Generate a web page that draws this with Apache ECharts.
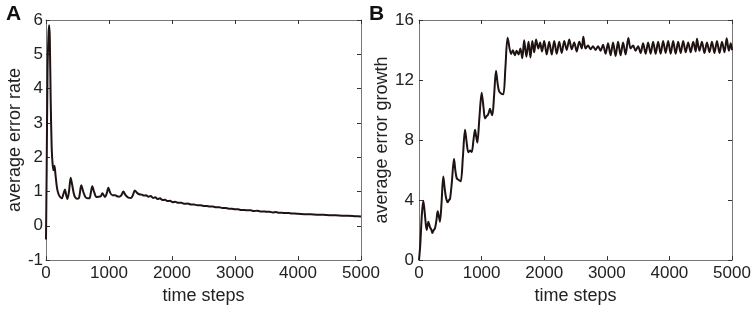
<!DOCTYPE html>
<html>
<head>
<meta charset="utf-8">
<script src="https://cdn.jsdelivr.net/npm/echarts@6/dist/echarts.min.js"></script>
<style>
html,body{margin:0;padding:0;background:#fff;}
#chart{width:754px;height:310px;}
</style>
</head>
<body>
<div id="chart"></div>
<script>
// ---- Data ----
var xTicks = [0, 1000, 2000, 3000, 4000, 5000];
var yTicksA = [-1, 0, 1, 2, 3, 4, 5, 6];
var yTicksB = [0, 4, 8, 12, 16];

var stepsA = [0,10,25,40,50,60,75,90,105,120,135,150,175,200,225,250,275,300,320,340,365,392,415,440,460,495,525,560,590,625,660,690,710,735,765,800,840,870,895,935,965,990,1020,1055,1100,1130,1160,1195,1228,1260,1300,1350,1380,1410,1445,1480,1520,1555,1590,1625,1660,1700,1735,1770,1810,1850,1890,1930,1970,2010,2050,2100,2150,2200,2250,2300,2350,2400,2450,2500,2550,2600,2650,2700,2750,2800,2850,2900,2950,3000,3050,3100,3150,3200,3250,3300,3350,3400,3450,3500,3550,3600,3650,3700,3750,3800,3850,3900,3950,4000,4100,4200,4300,4400,4500,4600,4700,4800,4900,5000];
var valuesA = [-0.4,1.5,4.6,5.6,5.85,5.5,3.6,2.3,1.8,1.62,1.75,1.5,1.1,0.92,0.84,0.8,0.92,1.06,0.9,0.78,1.0,1.4,1.2,0.95,0.84,0.79,0.82,1.18,1.0,0.84,0.8,0.8,0.95,1.15,0.98,0.84,0.85,0.86,0.95,0.84,0.95,1.11,0.96,0.89,0.89,0.86,0.85,0.89,1.0,0.9,0.83,0.81,0.9,1.03,0.96,0.92,0.91,0.88,0.89,0.85,0.87,0.81,0.83,0.78,0.8,0.75,0.76,0.72,0.73,0.69,0.7,0.67,0.67,0.64,0.65,0.62,0.62,0.6,0.6,0.58,0.58,0.56,0.56,0.54,0.54,0.52,0.52,0.5,0.5,0.48,0.48,0.46,0.46,0.45,0.45,0.43,0.44,0.42,0.42,0.41,0.41,0.39,0.4,0.38,0.38,0.37,0.37,0.36,0.36,0.35,0.34,0.335,0.325,0.32,0.31,0.305,0.295,0.29,0.28,0.27];

var stepsB = [0,20,45,69,95,122,149,175,200,213,235,256,280,298,318,335,360,388,410,431,458,478,495,525,559,580,602,630,666,700,735,760,788,815,842,870,895,915,932,965,1001,1030,1054,1080,1097,1120,1134,1155,1172,1200,1230,1255,1278,1310,1347,1380,1416,1470,1500,1530,1560,1590,1620,1650,1680,1715,1750,1780,1810,1840,1870,1905,1935,1965,2000,2040,2080,2120,2160,2200,2240,2280,2320,2360,2400,2440,2480,2520,2560,2600,2625,2660,2700,2740,2780,2820,2860,2900,2940,2980,3020,3060,3100,3140,3180,3220,3260,3300,3344,3380,3420,3460,3500,3540,3580,3620,3660,3700,3740,3780,3820,3860,3900,3940,3980,4020,4060,4100,4140,4180,4220,4260,4300,4340,4380,4420,4440,4480,4520,4560,4600,4640,4680,4720,4760,4800,4840,4880,4915,4950,4980,5000];
var valuesB = [0,1.0,3.0,3.96,3.0,2.0,2.56,2.2,2.0,1.8,2.0,2.13,2.7,3.25,2.9,2.56,3.8,5.57,4.8,4.17,3.85,4.0,4.06,5.2,6.75,6.0,5.46,5.35,5.25,6.8,8.69,7.9,7.18,7.3,7.2,8.0,8.69,8.2,7.83,9.5,11.16,10.2,9.44,9.6,9.65,9.9,10.08,9.8,9.65,11.0,12.62,11.8,11.27,11.1,11.05,12.8,14.82,13.74,13.99,13.65,13.95,13.7,14.1,13.45,14.65,13.55,14.55,13.5,14.6,13.85,14.7,14.1,14.5,13.9,14.6,13.7,14.55,13.7,14.6,13.75,14.55,13.8,14.6,14.0,14.7,14.05,14.5,13.9,14.55,14.1,14.88,14.1,14.3,14.05,14.25,14.0,14.25,13.95,14.35,13.75,14.45,13.65,14.5,13.6,14.55,13.65,14.5,13.7,14.8,14.1,14.3,13.95,14.25,13.8,14.45,13.75,14.5,13.75,14.55,13.75,14.55,13.75,14.6,13.8,14.6,13.75,14.6,13.75,14.55,13.8,14.6,13.85,14.5,13.85,14.55,13.9,14.75,13.95,14.55,13.8,14.5,13.85,14.55,13.8,14.6,13.8,14.55,13.85,14.78,13.95,14.45,14.0];

var xName = 'time steps';
var yNameA = 'average error rate';
var yNameB = 'average error growth';
var panelA = 'A';
var panelB = 'B';

function pairs(xs, ys){ var out=[]; for(var i=0;i<xs.length;i++){ out.push([xs[i], ys[i]]); } return out; }
function plain(v){ return String(v); }

var FONT = '"Liberation Sans", Arial, sans-serif';
var AXC = '#777';
var TXT = '#222';
var LINEC = '#1e1212';

function xMain(grid){
  return {type:'value', gridIndex:grid, position:'bottom', min:xTicks[0], max:xTicks[xTicks.length-1], interval:1000,
    name:xName, nameLocation:'middle', nameGap:24,
    nameTextStyle:{fontSize:18, color:TXT, fontFamily:FONT},
    axisLine:{show:true, onZero:false, lineStyle:{color:AXC, width:1}},
    axisTick:{show:true, inside:true, length:4, lineStyle:{color:'#333'}},
    axisLabel:{show:true, fontSize:17, color:TXT, fontFamily:FONT, margin:5, formatter:plain},
    splitLine:{show:false}};
}
function xTop(grid){
  return {type:'value', gridIndex:grid, position:'top', min:xTicks[0], max:xTicks[xTicks.length-1], interval:1000,
    axisLine:{show:true, onZero:false, lineStyle:{color:AXC, width:1}},
    axisTick:{show:true, inside:true, length:4, lineStyle:{color:'#333'}},
    axisLabel:{show:false}, splitLine:{show:false}};
}
function yMain(grid, ticks, interval, name, gap, margin){
  return {type:'value', gridIndex:grid, position:'left', min:ticks[0], max:ticks[ticks.length-1], interval:interval,
    name:name, nameLocation:'middle', nameGap:gap,
    nameTextStyle:{fontSize:18, color:TXT, fontFamily:FONT},
    axisLine:{show:true, onZero:false, lineStyle:{color:AXC, width:1}},
    axisTick:{show:true, inside:true, length:4, lineStyle:{color:'#333'}},
    axisLabel:{show:true, fontSize:17, color:TXT, fontFamily:FONT, margin:margin, formatter:plain},
    splitLine:{show:false}};
}
function yRight(grid, ticks, interval){
  return {type:'value', gridIndex:grid, position:'right', min:ticks[0], max:ticks[ticks.length-1], interval:interval,
    axisLine:{show:true, onZero:false, lineStyle:{color:AXC, width:1}},
    axisTick:{show:true, inside:true, length:4, lineStyle:{color:'#333'}},
    axisLabel:{show:false}, splitLine:{show:false}};
}

var chart = echarts.init(document.getElementById('chart'), null, {renderer:'canvas'});
chart.setOption({
  animation:false,
  backgroundColor:'#fff',
  title:[
    {text:panelA, left:1, top:-1, textStyle:{fontSize:21, fontWeight:'bold', color:'#111', fontFamily:FONT}},
    {text:panelB, left:364, top:-1, textStyle:{fontSize:21, fontWeight:'bold', color:'#111', fontFamily:FONT}}
  ],
  grid:[
    {left:46, right:393, top:20, bottom:42},
    {left:419, right:22, top:20, bottom:42}
  ],
  xAxis:[xMain(0), xTop(0), xMain(1), xTop(1)],
  yAxis:[
    yMain(0, yTicksA, 1, yNameA, 22, 3),
    yRight(0, yTicksA, 1),
    yMain(1, yTicksB, 4, yNameB, 20, 5),
    yRight(1, yTicksB, 4)
  ],
  series:[
    {type:'line', xAxisIndex:0, yAxisIndex:0, data:pairs(stepsA, valuesA), showSymbol:false, smooth:0.3,
      lineStyle:{color:LINEC, width:2}},
    {type:'line', xAxisIndex:2, yAxisIndex:2, data:pairs(stepsB, valuesB), showSymbol:false, smooth:0.3,
      lineStyle:{color:LINEC, width:2}}
  ]
});
</script>
</body>
</html>
